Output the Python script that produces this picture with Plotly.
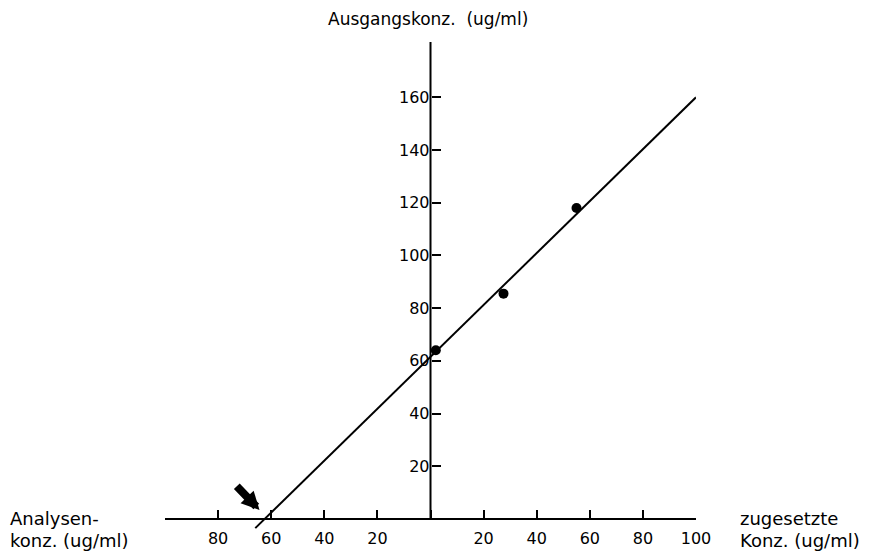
import plotly.graph_objects as go

# ---- data ----
added_conc = [2, 27.5, 55]          # zugesetzte Konz. (ug/ml)
measured_conc = [64, 85.5, 118]     # Ausgangskonz. (ug/ml)
fit_x = [-66, 100]                  # regression line ends
fit_y = [-3.5, 160]
x_tickvals = [-100, -80, -60, -40, -20, 0, 20, 40, 60, 80, 100]
x_ticktext = ["", "80", "60", "40", "20", "", "20", "40", "60", "80", "100"]
y_tickvals = [20, 40, 60, 80, 100, 120, 140, 160]
y_ticktext = ["20", "40", "60", "80", "100", "120", "140", "160"]
arrow_tip = (-64.4, 3.4)
arrow_tail = (-73.5, 13.0)

X_RANGE = [-100, 100]
Y_RANGE = [-8, 181]
Y_AXIS_TOP = 181

FONT = "DejaVu Sans"
OFF = 8  # browser default body margin
W, H = 883 - OFF, 553 - OFF
L, R, T, B = 165 - OFF, 187, 42 - OFF, 13
PW = W - L - R


def px_to_paper_x(px):
    return (px - OFF - L) / PW


def py_to_paper_y(py):
    return (H - B - (py - OFF)) / (H - T - B)


fig = go.Figure()

fig.add_trace(go.Scatter(
    x=fit_x, y=fit_y, mode="lines",
    line=dict(color="black", width=2), hoverinfo="skip", showlegend=False))

fig.add_trace(go.Scatter(
    x=added_conc, y=measured_conc, mode="markers",
    marker=dict(color="black", size=10, symbol="circle"),
    showlegend=False, cliponaxis=False))

# vertical axis line at x = 0 (from y = 0 upward)
fig.add_shape(type="line", xref="x", yref="y", x0=0, x1=0, y0=0, y1=Y_AXIS_TOP,
              line=dict(color="black", width=2), layer="above")

x_axis_pos = (0 - Y_RANGE[0]) / (Y_RANGE[1] - Y_RANGE[0])
y_axis_pos = (0 - X_RANGE[0]) / (X_RANGE[1] - X_RANGE[0])

fig.update_layout(
    width=W, height=H,
    margin=dict(l=L, r=R, t=T, b=B, autoexpand=False),
    paper_bgcolor="white", plot_bgcolor="white",
    font=dict(family=FONT, color="black", size=16),
    xaxis=dict(range=X_RANGE, anchor="free", position=x_axis_pos,
               automargin=False,
               showline=True, linecolor="black", linewidth=2,
               ticks="inside", ticklen=8, tickwidth=2, tickcolor="black",
               tickvals=x_tickvals, ticktext=x_ticktext,
               tickfont=dict(family=FONT, size=16),
               ticklabelstandoff=5,
               showgrid=False, zeroline=False, fixedrange=True),
    yaxis=dict(range=Y_RANGE, anchor="free", position=y_axis_pos,
               automargin=False,
               showline=False,
               ticks="inside", ticklen=9, tickwidth=2, tickcolor="black",
               tickvals=y_tickvals, ticktext=y_ticktext,
               tickfont=dict(family=FONT, size=16),
               ticklabelstandoff=1,
               showgrid=False, zeroline=False, fixedrange=True),
)

# arrow pointing at the x-intercept
fig.add_annotation(x=arrow_tip[0], y=arrow_tip[1], ax=arrow_tail[0], ay=arrow_tail[1],
                   xref="x", yref="y", axref="x", ayref="y", text="",
                   showarrow=True, arrowhead=2, arrowsize=0.45, arrowwidth=8,
                   arrowcolor="black")

labels = [
    ("Ausgangskonz.  (ug/ml)", 428, 19, "center", 17),
    ("Analysen-", 8, 518, "left", 18),
    ("konz. (ug/ml)", 8, 540, "left", 18),
    ("zugesetzte", 738, 518, "left", 18),
    ("Konz. (ug/ml)", 738, 540, "left", 18),
]
for txt, px, py, anc, fs in labels:
    fig.add_annotation(x=px_to_paper_x(px), y=py_to_paper_y(py), xref="paper", yref="paper",
                       text=txt, showarrow=False, xanchor=anc, yanchor="middle",
                       font=dict(family=FONT, size=fs, color="black"))

fig.write_html("out.html")
